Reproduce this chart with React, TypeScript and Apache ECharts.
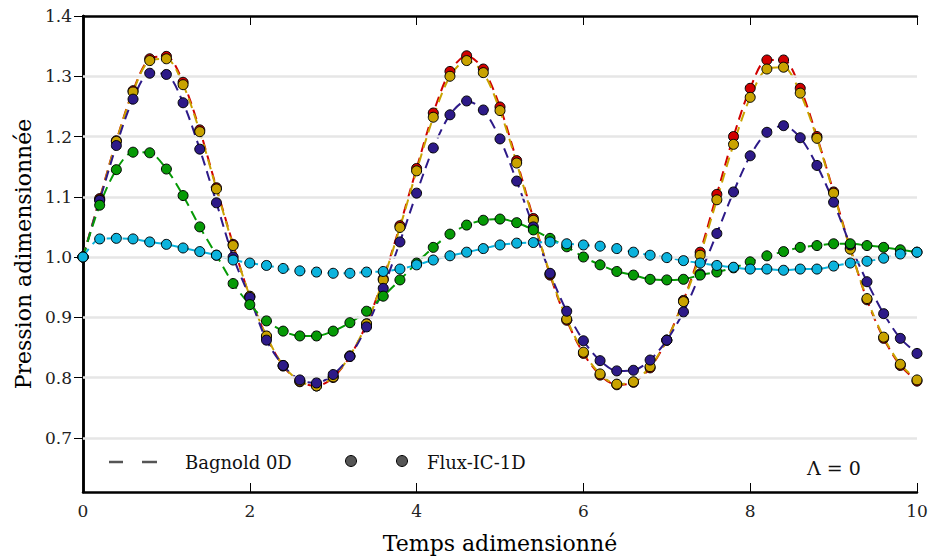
import React, { useEffect, useRef } from "react";
import * as echarts from "echarts";

const times = [
  0, 0.2, 0.4, 0.6, 0.8, 1.0, 1.2, 1.4, 1.6, 1.8, 2.0, 2.2, 2.4, 2.6, 2.8, 3.0, 3.2, 3.4, 3.6, 3.8,
  4.0, 4.2, 4.4, 4.6, 4.8, 5.0, 5.2, 5.4, 5.6, 5.8, 6.0, 6.2, 6.4, 6.6, 6.8, 7.0, 7.2, 7.4, 7.6, 7.8,
  8.0, 8.2, 8.4, 8.6, 8.8, 9.0, 9.2, 9.4, 9.6, 9.8, 10.0,
];

const redValues = [
  1.0, 1.097, 1.193, 1.276, 1.329, 1.333, 1.29, 1.211, 1.115, 1.021, 0.934, 0.868, 0.819, 0.793, 0.786, 0.8, 0.835,
  0.889, 0.964, 1.052, 1.147, 1.239, 1.308, 1.334, 1.312, 1.249, 1.16, 1.064, 0.97, 0.895, 0.84, 0.804, 0.788, 0.792,
  0.816, 0.862, 0.928, 1.008, 1.104, 1.2, 1.28, 1.327, 1.327, 1.28, 1.2, 1.108, 1.015, 0.929, 0.865, 0.82, 0.794,
];
const goldValues = [
  1.0, 1.095, 1.192, 1.274, 1.326, 1.329, 1.286, 1.208, 1.113, 1.019, 0.935, 0.869, 0.82, 0.794, 0.786, 0.801, 0.836,
  0.889, 0.962, 1.049, 1.143, 1.232, 1.3, 1.326, 1.306, 1.243, 1.156, 1.061, 0.972, 0.897, 0.842, 0.806, 0.789, 0.793,
  0.818, 0.862, 0.926, 1.003, 1.095, 1.187, 1.265, 1.312, 1.315, 1.272, 1.197, 1.106, 1.013, 0.931, 0.867, 0.822, 0.796,
];
const indigoValues = [
  1.0, 1.094, 1.185, 1.262, 1.305, 1.303, 1.256, 1.179, 1.09, 1.0, 0.933, 0.862, 0.82, 0.796, 0.791, 0.805, 0.835,
  0.884, 0.948, 1.025, 1.106, 1.181, 1.236, 1.259, 1.244, 1.196, 1.126, 1.05, 0.973, 0.91, 0.861, 0.828, 0.811, 0.812,
  0.829, 0.862, 0.909, 0.972, 1.039, 1.108, 1.168, 1.207, 1.218, 1.198, 1.152, 1.091, 1.02, 0.959, 0.906, 0.865, 0.84,
];
const greenValues = [
  1.0, 1.086, 1.145, 1.174, 1.173, 1.146, 1.102, 1.05, 1.003, 0.956, 0.921, 0.894, 0.877, 0.869, 0.869, 0.877, 0.891,
  0.91, 0.935, 0.962, 0.99, 1.016, 1.038, 1.053, 1.061, 1.063, 1.057, 1.045, 1.031, 1.017, 1.0, 0.987, 0.976, 0.97,
  0.963, 0.962, 0.963, 0.97, 0.975, 0.982, 0.992, 1.002, 1.009, 1.016, 1.019, 1.022, 1.022, 1.019, 1.016, 1.012, 1.008,
];
const cyanValues = [
  1.0, 1.03, 1.031, 1.03, 1.025, 1.021, 1.015, 1.009, 1.003, 0.995, 0.99, 0.986, 0.981, 0.977, 0.975, 0.973, 0.973,
  0.975, 0.976, 0.98, 0.987, 0.995, 1.002, 1.008, 1.014, 1.02, 1.023, 1.024, 1.025, 1.022, 1.02, 1.018, 1.014, 1.008,
  1.003, 0.999, 0.994, 0.99, 0.986, 0.983, 0.98, 0.98, 0.978, 0.98, 0.98, 0.985, 0.99, 0.993, 0.998, 1.005, 1.008,
];

const yTicks = [0.7, 0.8, 0.9, 1.0, 1.1, 1.2, 1.3, 1.4];
const xTicks = [0, 2, 4, 6, 8, 10];
const gridValues = [0.7, 0.8, 0.9, 1.0, 1.1, 1.2, 1.3];

const seriesDefs = [
  { name: "red", color: "#d00000", values: redValues },
  { name: "gold", color: "#c9a300", values: goldValues },
  { name: "indigo", color: "#2d1a88", values: indigoValues },
  { name: "green", color: "#069a06", values: greenValues },
  { name: "cyan", color: "#0cb3dd", values: cyanValues },
];

const FONT = "'DejaVu Serif', 'Liberation Serif', serif";

export default function App() {
  const ref = useRef<HTMLDivElement>(null);
  useEffect(() => {
    if (!ref.current) return;
    const chart = echarts.init(ref.current, undefined, { renderer: "svg" });
    const lines = seriesDefs.map((s, k) => ({
      type: "line",
      name: s.name + "-line",
      data: times.map((t, i) => [t, s.values[i]]),
      showSymbol: false,
      smooth: 0.3,
      z: 3 + k * 0.1,
      lineStyle: { color: s.color, width: 2, type: [10, 6] },
      silent: true,
    }));
    const dots = seriesDefs.map((s, k) => ({
      type: "scatter",
      name: s.name + "-dots",
      data: times.map((t, i) => [t, s.values[i]]),
      symbol: "circle",
      symbolSize: 10,
      z: 5 + k * 0.1,
      itemStyle: { color: s.color, borderColor: "#000", borderWidth: 1, opacity: 1 },
      silent: true,
    }));
    const option: any = {
      animation: false,
      backgroundColor: "#fff",
      grid: { left: 83, right: 11, top: 16, bottom: 68, containLabel: false, outerBoundsMode: "none" },
      xAxis: [
        {
          type: "value",
          min: 0,
          max: 10,
          interval: 2,
          name: "Temps adimensionné",
          nameLocation: "middle",
          nameGap: 40,
          nameTextStyle: { fontFamily: FONT, fontSize: 22, color: "#000" },
          axisLine: { show: true, lineStyle: { color: "#000", width: 2.5 } },
          axisTick: { show: true, inside: true, length: 9, lineStyle: { color: "#000", width: 1 } },
          axisLabel: { fontFamily: FONT, fontSize: 17, color: "#222", margin: 10, customValues: xTicks },
          splitLine: { show: false },
        },
        {
          type: "value",
          position: "top",
          min: 0,
          max: 10,
          interval: 2,
          axisLine: { show: true, lineStyle: { color: "#000", width: 2.5 } },
          axisTick: { show: true, inside: true, length: 9, lineStyle: { color: "#000", width: 1 } },
          axisLabel: { show: false },
          splitLine: { show: false },
        },
      ],
      yAxis: [
        {
          type: "value",
          min: 0.61,
          max: 1.4,
          name: "Pression adimensionnée",
          nameLocation: "middle",
          nameGap: 47,
          nameRotate: 90,
          nameTextStyle: { fontFamily: FONT, fontSize: 22, color: "#000" },
          axisLine: { show: true, lineStyle: { color: "#000", width: 2.5 } },
          axisTick: { show: true, inside: true, length: 9, customValues: yTicks, lineStyle: { color: "#000", width: 1 } },
          axisLabel: {
            fontFamily: FONT,
            fontSize: 17,
            color: "#222",
            margin: 11,
            customValues: yTicks,
            formatter: (v: number) => v.toFixed(1),
          },
          splitLine: { show: false },
        },
        {
          type: "value",
          position: "right",
          min: 0.61,
          max: 1.4,
          axisLine: { show: true, lineStyle: { color: "#000", width: 2.5 } },
          axisTick: { show: true, inside: true, length: 9, customValues: yTicks, lineStyle: { color: "#000", width: 1 } },
          axisLabel: { show: false, customValues: yTicks },
          splitLine: { show: false },
        },
      ],
      series: [
        {
          type: "line",
          name: "grid",
          data: [],
          z: 1,
          silent: true,
          markLine: {
            silent: true,
            symbol: "none",
            label: { show: false },
            lineStyle: { color: "#e6e6e6", width: 2.5, type: "solid" },
            data: gridValues.map((v) => ({ yAxis: v })),
          },
        },
        ...lines,
        ...dots,
      ],
      graphic: [
        { type: "line", shape: { x1: 109, y1: 462, x2: 123, y2: 462 }, style: { stroke: "#555", lineWidth: 2.5 } },
        { type: "line", shape: { x1: 142, y1: 462, x2: 157, y2: 462 }, style: { stroke: "#555", lineWidth: 2.5 } },
        {
          type: "text",
          x: 185,
          y: 462,
          style: { text: "Bagnold 0D", font: "18px " + FONT, fill: "#111", verticalAlign: "middle" },
        },
        { type: "circle", shape: { cx: 351, cy: 461, r: 5.5 }, style: { fill: "#555", stroke: "#000", lineWidth: 1 } },
        { type: "circle", shape: { cx: 402, cy: 461, r: 5.5 }, style: { fill: "#555", stroke: "#000", lineWidth: 1 } },
        {
          type: "text",
          x: 427,
          y: 462,
          style: { text: "Flux-IC-1D", font: "18px " + FONT, fill: "#111", verticalAlign: "middle" },
        },
        {
          type: "text",
          x: 807,
          y: 468,
          style: { text: "Λ = 0", font: "19px " + FONT, fill: "#111", verticalAlign: "middle" },
        },
      ],
    };
    chart.setOption(option);
    return () => chart.dispose();
  }, []);
  return <div ref={ref} style={{ width: 928, height: 560, position: "absolute", left: 0, top: 0 }} />;
}
